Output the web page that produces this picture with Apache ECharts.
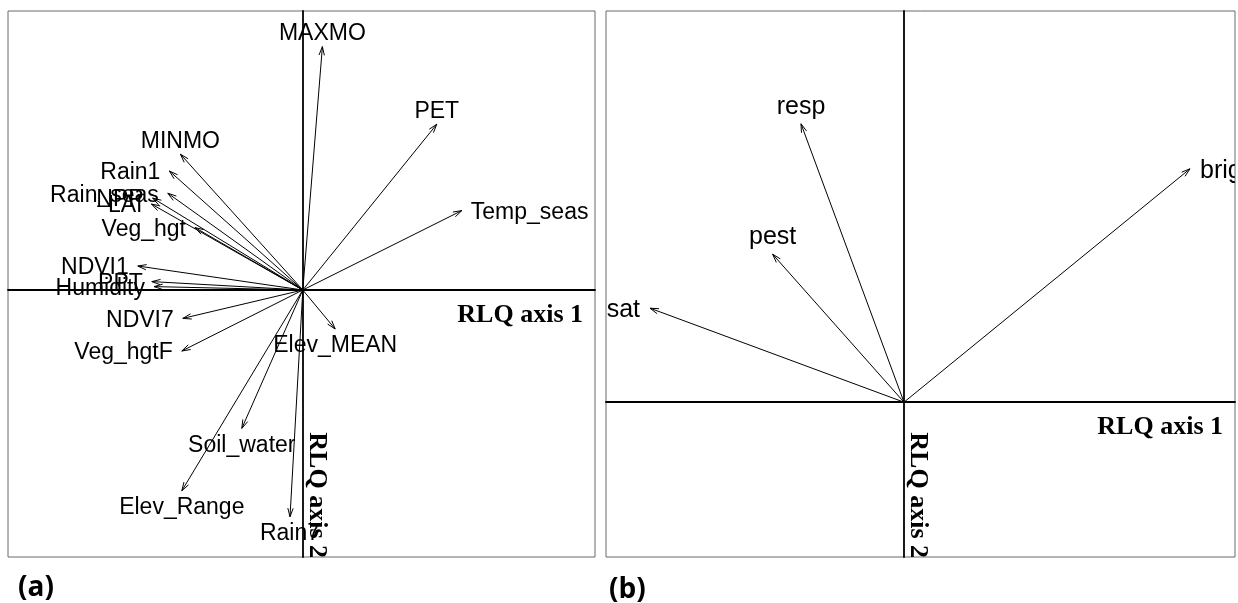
<!DOCTYPE html>
<html><head><meta charset="utf-8">
<script src="https://cdn.jsdelivr.net/npm/echarts@6/dist/echarts.min.js"></script>
<style>html,body{margin:0;padding:0;background:#fff}#c{width:1238px;height:603px}</style>
</head><body><div id="c"></div>
<script>
// ---- Panel (a): environmental variables (RLQ axis 1 / axis 2 scores)
const envNames = ['MAXMO','PET','Temp_seas','MINMO','Rain1','Rain_seas','NPP','LAI','Veg_hgt',
  'NDVI1','PPT','Humidity','NDVI7','Veg_hgtF','Elev_MEAN','Soil_water','Elev_Range','Rain7'];
const envAxis1 = [0.098, 0.670, 0.795, -0.612, -0.667, -0.675, -0.751, -0.757, -0.539,
  -0.825, -0.755, -0.744, -0.600, -0.605, 0.162, -0.305, -0.605, -0.064];
const envAxis2 = [1.217, 0.829, 0.397, 0.679, 0.595, 0.484, 0.460, 0.430, 0.312,
  0.120, 0.042, 0.017, -0.142, -0.305, -0.195, -0.692, -1.004, -1.134];
const envXRange = [-1.474, 1.461];
const envYRange = [-1.335, 1.395];

// ---- Panel (b): species traits
const traitNames = ['resp','pest','sat','bright'];
const traitAxis1 = [-0.515, -0.657, -1.270, 1.430];
const traitAxis2 = [1.392, 0.740, 0.470, 1.167];
const traitXRange = [-1.490, 1.655];
const traitYRange = [-0.774, 1.956];

const axisTitle1 = 'RLQ axis 1';
const axisTitle2 = 'RLQ axis 2';
const panelTags = ['(a)', '(b)'];

const chart = echarts.init(document.getElementById('c'), null, {renderer: 'canvas'});

function arrowRenderer(names, fontSize, gap, vOff) {
  return function (params, api) {
    const x = api.value(0), y = api.value(1);
    const o = api.coord([0, 0]);
    const t = api.coord([x, y]);
    const th = Math.atan2(t[1] - o[1], t[0] - o[0]);
    const L = 9, a = 0.30;
    const p1 = [t[0] - L * Math.cos(th - a), t[1] - L * Math.sin(th - a)];
    const p2 = [t[0] - L * Math.cos(th + a), t[1] - L * Math.sin(th + a)];
    const dy = 2;
    let tx, ty, align;
    if (x > y && x > -y) { tx = t[0] + gap; ty = t[1] + dy; align = 'left'; }
    else if (x > y && x <= -y) { tx = t[0]; ty = t[1] + vOff + dy; align = 'center'; }
    else if (x <= y && x <= -y) { tx = t[0] - gap; ty = t[1] + dy; align = 'right'; }
    else { tx = t[0]; ty = t[1] - vOff + dy; align = 'center'; }
    return {
      type: 'group',
      children: [
        {type: 'line', shape: {x1: o[0], y1: o[1], x2: t[0], y2: t[1]},
          style: {stroke: '#000', lineWidth: 1}},
        {type: 'polyline', shape: {points: [p1, t, p2]},
          style: {stroke: '#000', lineWidth: 1, fill: null}},
        {type: 'text', x: tx, y: ty,
          style: {text: names[params.dataIndex], fill: '#000', fontSize: fontSize,
            fontFamily: '"Liberation Sans", Arial, sans-serif', align: align, verticalAlign: 'middle'}}
      ]
    };
  };
}

function titleRenderer(params, api) {
  const cs = params.coordSys;
  const o = api.coord([0, 0]);
  const font = {fontSize: 26, fontWeight: 'bold', fontFamily: '"Liberation Serif", "Times New Roman", serif', fill: '#000'};
  return {
    type: 'group',
    children: [
      {type: 'text', x: cs.x + cs.width - 12, y: o[1] + 25,
        style: Object.assign({text: axisTitle1, align: 'right', verticalAlign: 'middle'}, font)},
      {type: 'text', x: o[0] + 14, y: cs.y + cs.height + 1, rotation: -Math.PI / 2,
        style: Object.assign({text: axisTitle2, align: 'right', verticalAlign: 'middle'}, font)}
    ]
  };
}

function valueAxis(idx, range) {
  return {
    type: 'value', gridIndex: idx, min: range[0], max: range[1],
    axisLine: {show: true, onZero: true, lineStyle: {color: '#000', width: 1.8}},
    axisTick: {show: false}, axisLabel: {show: false}, splitLine: {show: false}
  };
}

const option = {
  animation: false,
  backgroundColor: '#fff',
  title: [
    {text: panelTags[0], left: 13, top: 569,
      textStyle: {fontFamily: '"Open Sans", sans-serif', fontWeight: 'bold', fontSize: 28, color: '#000'}},
    {text: panelTags[1], left: 604, top: 571,
      textStyle: {fontFamily: '"Open Sans", sans-serif', fontWeight: 'bold', fontSize: 28, color: '#000'}}
  ],
  grid: [
    {left: 8, top: 11, width: 587, height: 546, show: true, borderColor: '#6a6a6a', borderWidth: 1, backgroundColor: 'transparent'},
    {left: 606, top: 11, width: 629, height: 546, show: true, borderColor: '#6a6a6a', borderWidth: 1, backgroundColor: 'transparent'}
  ],
  xAxis: [valueAxis(0, envXRange), valueAxis(1, traitXRange)],
  yAxis: [valueAxis(0, envYRange), valueAxis(1, traitYRange)],
  series: [
    {type: 'custom', xAxisIndex: 0, yAxisIndex: 0, clip: true, z: 3,
      renderItem: titleRenderer, data: [[0, 0]]},
    {type: 'custom', xAxisIndex: 1, yAxisIndex: 1, clip: true, z: 3,
      renderItem: titleRenderer, data: [[0, 0]]},
    {type: 'custom', xAxisIndex: 0, yAxisIndex: 0, clip: true, z: 4,
      renderItem: arrowRenderer(envNames, 23, 9, 15),
      data: envAxis1.map((v, i) => [v, envAxis2[i]])},
    {type: 'custom', xAxisIndex: 1, yAxisIndex: 1, clip: true, z: 4,
      renderItem: arrowRenderer(traitNames, 25, 10, 19),
      data: traitAxis1.map((v, i) => [v, traitAxis2[i]])}
  ]
};
chart.setOption(option);
</script>
</body></html>
